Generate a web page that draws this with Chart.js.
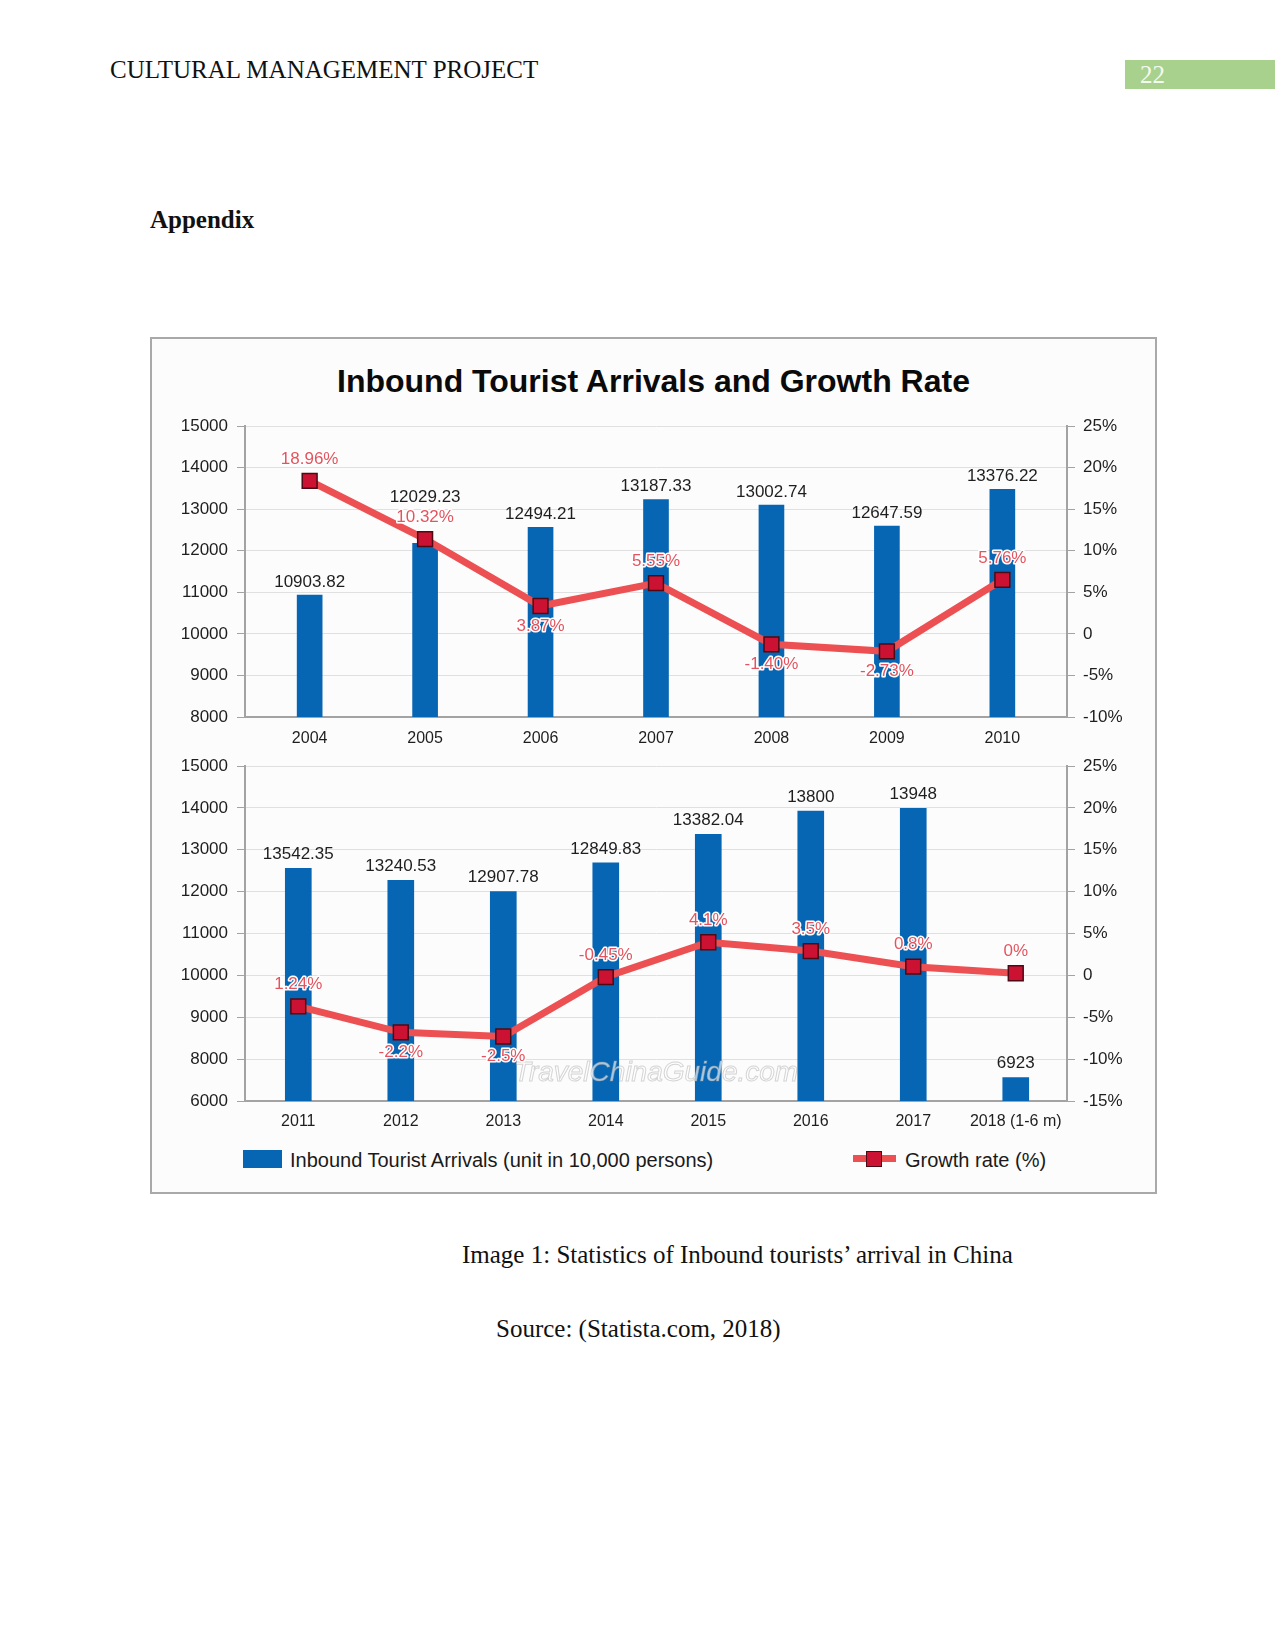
<!DOCTYPE html>
<html>
<head>
<meta charset="utf-8">
<script src="https://cdn.jsdelivr.net/npm/chart.js@4.4.0/dist/chart.umd.min.js"></script>
<style>
  html, body { margin: 0; padding: 0; background: #fff; }
  #page { position: relative; width: 1275px; height: 1650px; overflow: hidden; background: #fff;
          font-family: 'Liberation Serif', 'Times New Roman', serif; color: #111; }
  .t { position: absolute; white-space: nowrap; line-height: 1; }
  .serif { font-family: 'Liberation Serif', 'Times New Roman', serif; font-size: 25px; }
  .sans { font-family: 'Liberation Sans', Arial, sans-serif; }
  #frame { position: absolute; left: 150px; top: 337px; width: 1007px; height: 857px; box-sizing: border-box;
           border: 2px solid #a9a9a9; background: #fcfcfc; }
  canvas { position: absolute; }
</style>
</head>
<body>
<div id="page">
  <div class="t serif" style="left:110px;top:57px;">CULTURAL MANAGEMENT PROJECT</div>
  <div style="position:absolute;left:1125px;top:60px;width:150px;height:29px;background:#a9d18e;"></div>
  <div class="t serif" style="left:1140px;top:62px;color:#f3faee;">22</div>
  <div class="t serif" style="left:150px;top:207px;font-weight:bold;">Appendix</div>

  <div id="frame"></div>
  <div class="t sans" style="left:150px;width:1007px;top:365px;text-align:center;font-size:32px;font-weight:bold;color:#0a0a0a;">Inbound Tourist Arrivals and Growth Rate</div>

  <canvas id="top" width="1003" height="345" style="left:152px;top:400px;"></canvas>
  <canvas id="bottom" width="1003" height="390" style="left:152px;top:745px;"></canvas>

  <!-- legend -->
  <div style="position:absolute;left:243px;top:1150px;width:39px;height:18px;background:#0766b3;"></div>
  <div class="t sans" style="left:290px;top:1150px;font-size:20px;color:#1a1a1a;">Inbound Tourist Arrivals (unit in 10,000 persons)</div>
  <div style="position:absolute;left:853px;top:1155px;width:43px;height:7px;background:#ec5052;"></div>
  <div style="position:absolute;left:866px;top:1151px;width:14px;height:14px;background:#cc1233;border:1.5px solid #4d0a14;"></div>
  <div class="t sans" style="left:905px;top:1150px;font-size:20px;color:#1a1a1a;">Growth rate (%)</div>

  <div class="t serif" style="left:462px;top:1242px;">Image 1: Statistics of Inbound tourists’ arrival in China</div>
  <div class="t serif" style="left:496px;top:1316px;">Source: (Statista.com, 2018)</div>
</div>

<script>
// 2004-2010 panel
const yearsTop = ['2004', '2005', '2006', '2007', '2008', '2009', '2010']
const arrivalsTop = [10935, 12178, 12563, 13231, 13100, 12595, 13477]
const arrivalsTopText = ['10903.82', '12029.23', '12494.21', '13187.33', '13002.74', '12647.59', '13376.22']
const growthTop = [18.4, 11.4, 3.35, 6.1, -1.26, -2.1, 6.5]
const growthTopText = ['18.96%', '10.32%', '3.87%', '5.55%', '-1.40%', '-2.73%', '5.76%']
const leftTicksTop = ['8000', '9000', '10000', '11000', '12000', '13000', '14000', '15000']
const rightTicksTop = ['-10%', '-5%', '0', '5%', '10%', '15%', '20%', '25%']

// 2011-2018 panel
const yearsBottom = ['2011', '2012', '2013', '2014', '2015', '2016', '2017', '2018 (1-6 m)']
const arrivalsBottom = [12558, 12272, 12000, 12685, 13370, 13926, 13990, 7561]
const arrivalsBottomText = ['13542.35', '13240.53', '12907.78', '12849.83', '13382.04', '13800', '13948', '6923']
const growthBottom = [-3.7, -6.8, -7.3, -0.2, 3.95, 2.9, 1.04, 0.25]
const growthBottomText = ['1.24%', '-2.2%', '-2.5%', '-0.45%', '4.1%', '3.5%', '0.8%', '0%']
const leftTicksBottom = ['6000', '8000', '9000', '10000', '11000', '12000', '13000', '14000', '15000']
const rightTicksBottom = ['-15%', '-10%', '-5%', '0', '5%', '10%', '15%', '20%', '25%']

const BLUE = '#0766b3'
const LINE_RED = '#ec5052'
const MARK_FILL = '#cc1233'
const MARK_EDGE = '#4d0a14'
const TAG_RED = '#e4545e'
const AXIS = '#a3a3a3'
const GRID = '#e0e0e0'
const TXT = '#1e1e1e'
const FONT = "'Liberation Sans', Arial, sans-serif"

Chart.defaults.font.family = FONT
Chart.defaults.color = TXT

// value labels over bars and growth points (+ watermark on the lower panel)
const valueTags = {
  id: 'valueTags',
  afterDatasetsDraw(chart, args, o) {
    const ctx = chart.ctx
    const area = chart.chartArea
    const pts = chart.getDatasetMeta(0).data
    const bars = chart.getDatasetMeta(1).data
    ctx.save()
    if (o.watermark) {
      ctx.font = `italic 28px ${FONT}`
      ctx.textAlign = 'center'
      ctx.textBaseline = 'middle'
      ctx.lineWidth = 1
      ctx.strokeStyle = 'rgba(150,150,150,0.4)'
      ctx.fillStyle = 'rgba(255,255,255,0.65)'
      const wx = (area.left + area.right) / 2, wy = area.bottom - 28
      ctx.fillText(o.watermark, wx, wy)
      ctx.strokeText(o.watermark, wx, wy)
    }
    ctx.font = `17px ${FONT}`
    ctx.textAlign = 'center'
    ctx.textBaseline = 'middle'
    ctx.lineJoin = 'round'
    bars.forEach((b, i) => {
      const p = pts[i]
      const below = o.below.includes(i)
      const gy = below ? p.y + 20 : p.y - 22
      ctx.lineWidth = 3
      ctx.strokeStyle = '#ffffff'
      ctx.strokeText(o.lineText[i], p.x, gy)
      ctx.fillStyle = TAG_RED
      ctx.fillText(o.lineText[i], p.x, gy)

      let by = b.y - o.barGap
      if (!below && Math.abs(by - gy) < 18) by = gy - 20
      ctx.fillStyle = TXT
      ctx.fillText(o.barText[i], b.x, by)
    })
    ctx.restore()
  }
}

function panel(el, c) {
  return new Chart(el, {
    type: 'bar',
    data: {
      datasets: [
        {
          type: 'line',
          label: 'Growth rate (%)',
          data: c.growth.map((v, i) => ({ x: i, y: v })),
          yAxisID: 'y2',
          borderColor: LINE_RED,
          borderWidth: 7,
          pointStyle: 'rect',
          pointRadius: 10.5,
          pointBackgroundColor: MARK_FILL,
          pointBorderColor: MARK_EDGE,
          pointBorderWidth: 1.5,
          tension: 0,
        },
        {
          label: 'Inbound Tourist Arrivals (unit in 10,000 persons)',
          data: c.arrivals.map((v, i) => ({ x: i, y: v })),
          yAxisID: 'y',
          backgroundColor: BLUE,
          barThickness: c.barW,
        },
      ],
    },
    options: {
      responsive: false,
      animation: false,
      layout: { padding: { top: c.padTop } },
      plugins: {
        legend: { display: false },
        tooltip: { enabled: false },
        valueTags: { barText: c.arrivalsText, lineText: c.growthText, below: c.below, barGap: c.barGap, watermark: c.watermark },
      },
      scales: {
        x: {
          type: 'linear', min: c.xMin, max: c.xMax, offset: false,
          grid: { display: false, drawTicks: false, tickLength: 0 },
          border: { color: AXIS, width: 2 },
          afterBuildTicks: s => { s.ticks = c.cats.map((_, i) => ({ value: i })) },
          ticks: { padding: c.xPad, color: TXT, font: { size: 16 }, autoSkip: false, maxRotation: 0,
                   callback: v => c.cats[v] },
          afterFit: s => { s.height = c.xH },
        },
        y: {
          position: 'left', min: c.yMin, max: 15000,
          ticks: { stepSize: 1000, padding: 9, color: TXT, font: { size: 17 }, callback: (v, i) => c.leftTicks[i] },
          grid: { color: GRID, tickColor: AXIS, tickLength: 8 },
          border: { color: AXIS, width: 2 },
          afterFit: s => { s.width = 93 },
        },
        y2: {
          position: 'right', min: c.gMin, max: 25,
          ticks: { stepSize: 5, padding: 8, color: TXT, font: { size: 17 }, callback: (v, i) => c.rightTicks[i] },
          grid: { drawOnChartArea: false, tickColor: AXIS, tickLength: 8 },
          border: { color: AXIS, width: 2 },
          afterFit: s => { s.width = 88 },
        },
      },
    },
    plugins: [valueTags],
  })
}

panel(document.getElementById('top'), {
  cats: yearsTop, arrivals: arrivalsTop, arrivalsText: arrivalsTopText,
  growth: growthTop, growthText: growthTopText,
  leftTicks: leftTicksTop, rightTicks: rightTicksTop,
  yMin: 8000, gMin: -10, xMin: -0.56, xMax: 6.56,
  barW: 25, padTop: 26, xH: 28, xPad: 12, barGap: 13, below: [2, 4, 5],
})

panel(document.getElementById('bottom'), {
  cats: yearsBottom, arrivals: arrivalsBottom, arrivalsText: arrivalsBottomText,
  growth: growthBottom, growthText: growthBottomText,
  leftTicks: leftTicksBottom, rightTicks: rightTicksBottom,
  yMin: 7000, gMin: -15, xMin: -0.52, xMax: 7.5,
  barW: 26, padTop: 21, xH: 34, xPad: 11, barGap: 14, below: [1, 2],
  watermark: 'TravelChinaGuide.com',
})
</script>
</body>
</html>
